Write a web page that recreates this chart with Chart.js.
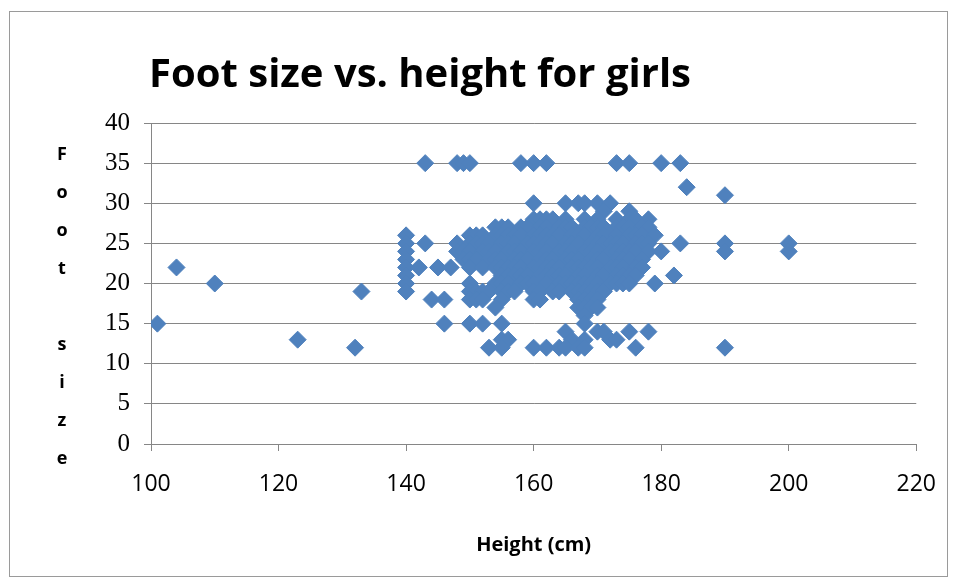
<!DOCTYPE html>
<html>
<head>
<meta charset="utf-8">
<title>Foot size vs. height for girls</title>
<script src="https://cdn.jsdelivr.net/npm/chart.js@4.4.1/dist/chart.umd.min.js"></script>
<style>
  html, body { margin: 0; padding: 0; background: #fff; }
  #chart { display: block; }
</style>
</head>
<body>
<canvas id="chart" width="956" height="582"></canvas>
<script>
(() => {
  const TITLE = 'Foot size vs. height for girls';
  const X_TITLE = 'Height (cm)';
  const Y_TITLE = 'Foot size';
  const MARKER = '#4f81bd';
  const GRID = '#868686';

  // heights (cm), one list per foot size
  const heights35 = [143, 148, 149, 150, 158, 160, 162, 173, 175, 180, 183];
  const heights32 = [184];
  const heights31 = [190];
  const heights30 = [160, 165, 167, 168, 170, 172];
  const heights29 = [171, 175];
  const heights28 = [160, 161, 162, 163, 165, 168, 170, 173, 175, 176, 178];
  const heights27 = [154, 155, 156, 158, 159, 161, 162, 164, 165, 166, 168, 169, 170, 171, 173, 174, 175, 177, 178];
  const heights26 = [140, 150, 151, 152, 154, 155, 156, 157, 158, 160, 161, 162, 163, 164, 166, 167, 168, 170, 171, 172, 173, 175, 176, 177, 179];
  const heights25 = [140, 143, 148, 150, 151, 152, 153, 155, 156, 157, 159, 160, 161, 162, 163, 165, 166, 167, 169, 170, 171, 172, 173, 174, 176, 177, 178, 183, 190, 200];
  const heights24 = [140, 148, 149, 150, 152, 153, 154, 156, 157, 158, 160, 161, 162, 164, 165, 166, 168, 169, 170, 172, 173, 174, 175, 176, 178, 180, 190, 200];
  const heights23 = [140, 149, 150, 151, 153, 154, 155, 157, 158, 159, 161, 162, 163, 165, 166, 167, 169, 170, 171, 173, 174, 175, 177];
  const heights22 = [104, 140, 142, 145, 147, 150, 152, 154, 155, 156, 157, 158, 160, 161, 162, 163, 164, 166, 167, 168, 169, 170, 172, 173, 174, 176, 177];
  const heights21 = [140, 155, 156, 157, 158, 159, 161, 162, 163, 164, 165, 167, 168, 169, 170, 171, 173, 174, 175, 176, 182];
  const heights20 = [110, 140, 150, 154, 155, 156, 158, 159, 160, 161, 162, 164, 165, 166, 167, 168, 169, 170, 172, 173, 174, 175, 179];
  const heights19 = [133, 140, 150, 151, 152, 153, 155, 156, 157, 160, 161, 163, 164, 166, 167, 168, 169, 170, 171];
  const heights18 = [144, 146, 150, 151, 152, 155, 160, 161, 167, 168, 169, 170];
  const heights17 = [154, 167, 168, 169, 170];
  const heights16 = [168];
  const heights15 = [101, 146, 150, 152, 155, 168];
  const heights14 = [165, 170, 171, 175, 178];
  const heights13 = [123, 155, 156, 166, 168, 172, 173];
  const heights12 = [132, 153, 155, 160, 162, 164, 165, 167, 168, 176, 190];

  const footRows = [
    [35, heights35], [32, heights32], [31, heights31], [30, heights30],
    [29, heights29], [28, heights28], [27, heights27], [26, heights26],
    [25, heights25], [24, heights24], [23, heights23], [22, heights22],
    [21, heights21], [20, heights20], [19, heights19], [18, heights18],
    [17, heights17], [16, heights16], [15, heights15], [14, heights14],
    [13, heights13], [12, heights12]
  ];

  const points = [];
  footRows.forEach(([size, hs]) => {
    hs.forEach(h => points.push({ x: h, y: size }));
  });

  // frame, title and the stacked y title are drawn by hand
  const decorPlugin = {
    id: 'decor',
    beforeDraw(chart) {
      const ctx = chart.ctx;
      ctx.save();
      ctx.fillStyle = '#fff';
      ctx.fillRect(0, 0, chart.width, chart.height);
      ctx.strokeStyle = '#9a9a9a';
      ctx.lineWidth = 1;
      ctx.strokeRect(9.5, 11.5, 938, 565);
      ctx.restore();
    },
    afterDraw(chart) {
      const ctx = chart.ctx;
      const area = chart.chartArea;
      ctx.save();
      ctx.fillStyle = '#000';
      ctx.textAlign = 'center';

      ctx.font = 'bold 40px "Open Sans"';
      ctx.textBaseline = 'alphabetic';
      ctx.fillText(TITLE, 420, 87);

      ctx.font = 'bold 18px "Open Sans"';
      ctx.textBaseline = 'middle';
      const letters = Y_TITLE.split('');
      letters.forEach((ch, i) => {
        ctx.fillText(ch, 62, 155 + i * 38);
      });

      ctx.font = 'bold 20px "Open Sans"';
      ctx.fillText(X_TITLE, (area.left + area.right) / 2, 545);
      ctx.restore();
    }
  };

  const ctx = document.getElementById('chart').getContext('2d');
  new Chart(ctx, {
    type: 'scatter',
    data: {
      datasets: [{
        label: 'Girls',
        data: points,
        pointStyle: 'rectRot',
        pointRadius: 8.5,
        pointBorderWidth: 1,
        backgroundColor: MARKER,
        borderColor: MARKER
      }]
    },
    options: {
      responsive: false,
      animation: false,
      devicePixelRatio: 1,
      layout: { padding: { top: 123, right: 38, bottom: 0, left: 0 } },
      plugins: {
        legend: { display: false },
        tooltip: { enabled: false },
        title: { display: false }
      },
      scales: {
        x: {
          type: 'linear',
          min: 100,
          max: 220,
          afterFit: s => { s.height = 138; },
          ticks: {
            stepSize: 20,
            padding: 20,
            color: '#000',
            font: { family: '"Open Sans"', size: 23 }
          },
          grid: { drawOnChartArea: false, drawTicks: true, tickLength: 7, color: GRID },
          border: { display: true, color: GRID }
        },
        y: {
          min: 0,
          max: 40,
          afterFit: s => { s.width = 151; },
          ticks: {
            stepSize: 5,
            padding: 14,
            color: '#000',
            font: { family: '"Liberation Serif"', size: 25 }
          },
          grid: { color: GRID, tickLength: 7 },
          border: { display: true, color: GRID }
        }
      }
    },
    plugins: [decorPlugin]
  });
})();
</script>
</body>
</html>
